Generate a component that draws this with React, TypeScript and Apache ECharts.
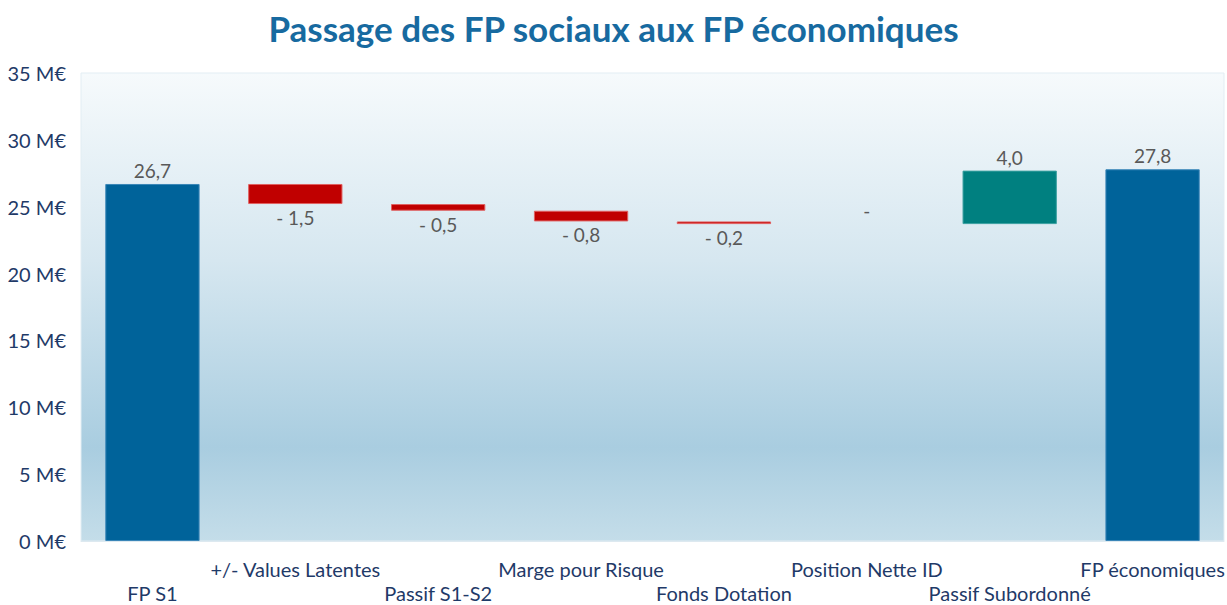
import React, { useEffect, useRef } from "react";
import * as echarts from "echarts";

const categories = [
  "FP S1",
  "+/- Values Latentes",
  "Passif S1-S2",
  "Marge pour Risque",
  "Fonds Dotation",
  "Position Nette ID",
  "Passif Subordonné",
  "FP économiques",
];
const startValue = 26.7;
const variations = [-1.5, -0.5, -0.8, -0.2, 0, 4.0];
const endValue = 27.8;
const yTicks = { min: 0, max: 35, interval: 5, unit: "M€" };

const COLORS = {
  total: "#00639a",
  down: "#c00000",
  up: "#008080",
};

function fmt(v: number): string {
  if (v === 0) return "-";
  const s = Math.abs(v).toFixed(1).replace(".", ",");
  return v < 0 ? "- " + s : s;
}

export default function App() {
  const ref = useRef<HTMLDivElement>(null);

  useEffect(() => {
    if (!ref.current) return;
    const chart = echarts.init(ref.current, null, { renderer: "svg" });

    const base: number[] = [];
    const heights: number[] = [];
    const signed: number[] = [];
    const kinds: string[] = [];

    base.push(0);
    heights.push(startValue);
    signed.push(startValue);
    kinds.push("total");
    let running = startValue;
    variations.forEach((d) => {
      const next = running + d;
      base.push(Math.min(running, next));
      heights.push(Math.abs(d));
      signed.push(d);
      kinds.push(d < 0 ? "down" : d > 0 ? "up" : "zero");
      running = next;
    });
    base.push(0);
    heights.push(endValue);
    signed.push(endValue);
    kinds.push("total");

    const font = "Lato";

    chart.setOption({
      animation: false,
      title: {
        text: "Passage des FP sociaux aux FP économiques",
        left: "center",
        top: 5,
        textStyle: {
          fontFamily: font,
          fontWeight: "bold",
          fontSize: 35,
          color: "#176aa0",
        },
      },
      grid: {
        left: 81,
        right: 3,
        top: 73,
        bottom: 64,
        containLabel: false,
        outerBoundsMode: "none",
        show: true,
        borderColor: "#e2edf3",
        borderWidth: 1,
        backgroundColor: new echarts.graphic.LinearGradient(0, 0, 0, 1, [
          { offset: 0, color: "#f6fafc" },
          { offset: 0.4, color: "#d6e7f0" },
          { offset: 0.8, color: "#a9cde0" },
          { offset: 1, color: "#c4dde9" },
        ]),
      },
      xAxis: {
        type: "category",
        data: categories,
        axisLine: { show: true, lineStyle: { color: "#dde9f0" } },
        axisTick: { show: false },
        axisLabel: {
          interval: 0,
          margin: 16,
          fontFamily: font,
          fontSize: 20,
          lineHeight: 24,
          verticalAlign: "top",
          color: "#1f3a68",
          formatter: (v: string, i: number) => (i % 2 === 0 ? "\n" + v : v),
        },
      },
      yAxis: {
        type: "value",
        min: yTicks.min,
        max: yTicks.max,
        interval: yTicks.interval,
        splitLine: { show: false },
        axisLine: { show: false },
        axisTick: { show: false },
        axisLabel: {
          margin: 15,
          fontFamily: font,
          fontSize: 20,
          color: "#1f3a68",
          formatter: (v: number) => `${v} ${yTicks.unit}`,
        },
      },
      series: [
        {
          type: "bar",
          stack: "w",
          data: base,
          itemStyle: { color: "transparent" },
          emphasis: { disabled: true },
          silent: true,
          barCategoryGap: "34%",
        },
        {
          type: "bar",
          stack: "w",
          barCategoryGap: "34%",
          data: heights.map((h, i) => {
            const k = kinds[i];
            const color =
              k === "total"
                ? COLORS.total
                : k === "up"
                ? COLORS.up
                : k === "down"
                ? COLORS.down
                : "transparent";
            return {
              value: h,
              itemStyle: {
                color,
                borderColor:
                  k === "total" ? "#3a86b8" : k === "up" ? "#3aa0a0" : k === "down" ? "#e06060" : "transparent",
                borderWidth: k === "zero" ? 0 : 1,
              },
              label: {
                show: true,
                position: k === "down" ? "bottom" : "top",
                distance: k === "zero" ? 4 : 4,
              },
            };
          }),
          label: {
            show: true,
            fontFamily: font,
            fontSize: 19,
            color: "#595959",
            formatter: (p: any) => fmt(signed[p.dataIndex]),
          },
        },
      ],
    });

    return () => chart.dispose();
  }, []);

  return (
    <div
      ref={ref}
      style={{ position: "fixed", left: 0, top: 0, width: 1227, height: 605, background: "#ffffff" }}
    />
  );
}
